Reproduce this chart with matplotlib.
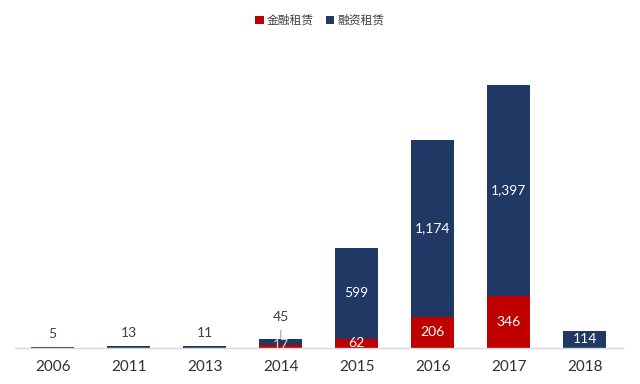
import matplotlib
matplotlib.use("Agg")
import matplotlib.pyplot as plt
import numpy as np

plt.rcParams['font.family'] = ['Lato', 'Noto Sans CJK SC', 'DejaVu Sans']

years = ["2006", "2011", "2013", "2014", "2015", "2016", "2017", "2018"]
jinrong = [0, 0, 0, 17, 62, 206, 346, 0]        # 金融租赁
rongzi = [5, 13, 11, 45, 599, 1174, 1397, 114]  # 融资租赁

red = "#C00000"
navy = "#1F3864"

fig = plt.figure(figsize=(6.4, 3.84), dpi=100)
ax = fig.add_axes([0.023, 0.094, 0.95, 0.802])

x = np.arange(len(years))
w = 0.57
ax.bar(x, jinrong, w, color=red, label="金融租赁", zorder=2)
ax.bar(x, rongzi, w, bottom=jinrong, color=navy, label="融资租赁", zorder=2)

for i in range(len(years)):
    r, n = jinrong[i], rongzi[i]
    total = r + n
    if total < 30:
        # tiny bars: value above
        ax.text(x[i], total + 85, str(n), ha="center", va="center",
                fontsize=10, color="#404040")
    elif years[i] == "2014":
        ax.text(x[i], r / 2 + 10, str(r), ha="center", va="center",
                fontsize=10, color="#d0d4e0", zorder=3)
        ax.annotate(str(n), xy=(x[i], total + 2), xytext=(x[i], total + 140),
                    ha="center", va="center", fontsize=10, color="#404040",
                    arrowprops=dict(arrowstyle="-", color="#a8a0a0", lw=0.8,
                                    shrinkA=3, shrinkB=0))
    else:
        if r > 0:
            ax.text(x[i], r / 2, str(r), ha="center", va="center",
                    fontsize=10, color="white", zorder=3)
        ax.text(x[i], r + n / 2, f"{n:,}", ha="center", va="center",
                fontsize=10, color="white", zorder=3)

ax.set_xlim(-0.5, len(years) - 0.5)
ax.set_ylim(0, 2041)
ax.set_xticks(x)
ax.set_xticklabels(years, fontsize=11, color="#303030")
ax.tick_params(axis="x", length=0, pad=9)
ax.set_yticks([])
for s in ["top", "right", "left"]:
    ax.spines[s].set_visible(False)
ax.spines["bottom"].set_color("#d9d9d9")
ax.spines["bottom"].set_linewidth(1)

fig.legend(loc="upper center", bbox_to_anchor=(0.5, 0.99), ncol=2,
           frameon=False, fontsize=8.5, handlelength=0.7, handleheight=0.7,
           handletextpad=0.3, columnspacing=1.0, labelcolor="#404040")

fig.savefig("out.png", dpi=100)
